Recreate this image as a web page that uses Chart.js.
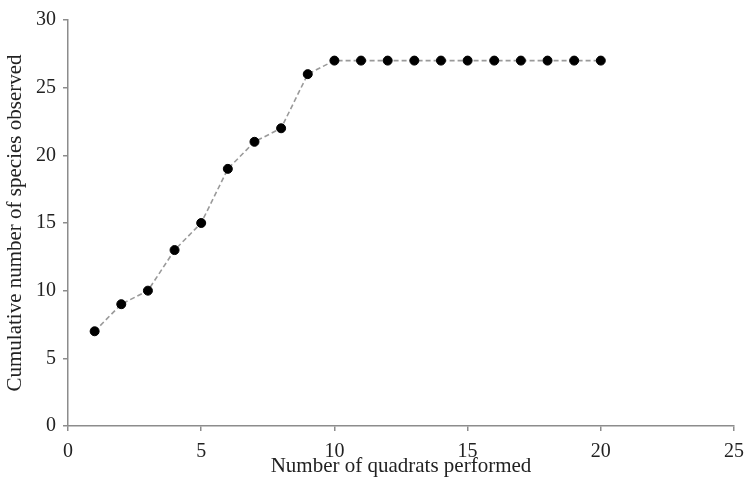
<!DOCTYPE html>
<html>
<head>
<meta charset="utf-8">
<script src="https://cdn.jsdelivr.net/npm/chart.js@4"></script>
<style>
  html, body { margin: 0; padding: 0; background: #fff; }
  #wrap { width: 746px; height: 489px; }
</style>
</head>
<body>
<div id="wrap"><canvas id="speciesChart"></canvas></div>
<script>
// quadrat number and cumulative species count
const quadrats = [1, 2, 3, 4, 5, 6, 7, 8, 9, 10, 11, 12, 13, 14, 15, 16, 17, 18, 19, 20];
const species = [7, 9, 10, 13, 15, 19, 21, 22, 26, 27, 27, 27, 27, 27, 27, 27, 27, 27, 27, 27];
const xTicks = [0, 5, 10, 15, 20, 25];
const yTicks = [0, 5, 10, 15, 20, 25, 30];

const axisColor = "#8c8c8c";
const textColor = "#222";
const serif = "'Liberation Serif', 'Times New Roman', serif";

const points = quadrats.map((q, i) => ({ x: q, y: species[i] }));

new Chart(document.getElementById("speciesChart"), {
  type: "line",
  data: {
    datasets: [
      {
        data: points,
        borderColor: "#9a9a9a",
        borderWidth: 1.6,
        borderDash: [5, 3],
        pointBackgroundColor: "#000",
        pointBorderColor: "#000",
        pointRadius: 4.5,
        pointBorderWidth: 1,
        tension: 0,
      },
    ],
  },
  options: {
    responsive: true,
    maintainAspectRatio: false,
    animation: false,
    layout: { padding: { top: 20, right: 12, left: 0, bottom: 0 } },
    plugins: {
      legend: { display: false },
      tooltip: { enabled: false },
    },
    scales: {
      x: {
        type: "linear",
        min: 0,
        max: 25,
        afterBuildTicks: (scale) => {
          scale.ticks = xTicks.map((v) => ({ value: v }));
        },
        afterFit: (scale) => {
          scale.height = 63;
          // let the last label hang past the plot edge like the original
          scale.paddingLeft = 0;
          scale.paddingRight = 0;
        },
        border: { color: axisColor, width: 1.5 },
        grid: {
          drawOnChartArea: false,
          drawTicks: true,
          tickLength: 5,
          color: axisColor,
          lineWidth: 1.5,
        },
        ticks: {
          color: textColor,
          padding: 9,
          maxRotation: 0,
          font: { family: serif, size: 20 },
        },
        title: {
          display: true,
          text: "Number of quadrats performed",
          color: textColor,
          padding: { top: 0, bottom: 10 },
          font: { family: serif, size: 21 },
        },
      },
      y: {
        min: 0,
        max: 30,
        afterBuildTicks: (scale) => {
          scale.ticks = yTicks.map((v) => ({ value: v }));
        },
        afterFit: (scale) => {
          scale.width = 68;
        },
        border: { color: axisColor, width: 1.5 },
        grid: {
          drawOnChartArea: false,
          drawTicks: true,
          tickLength: 5,
          color: axisColor,
          lineWidth: 1.5,
        },
        ticks: {
          color: textColor,
          padding: 7,
          font: { family: serif, size: 20 },
        },
        title: {
          display: true,
          text: "Cumulative number of species observed",
          color: textColor,
          padding: { top: 3, bottom: 0 },
          font: { family: serif, size: 21 },
        },
      },
    },
  },
});
</script>
</body>
</html>
